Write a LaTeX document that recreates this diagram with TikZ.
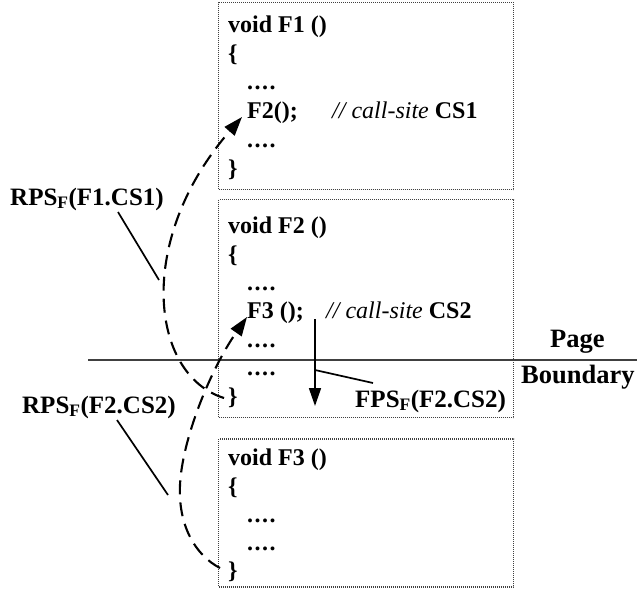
\documentclass[tikz,border=0pt]{standalone}
\usepackage{fontspec}
\setmainfont{Liberation Serif}
\usetikzlibrary{arrows.meta}
\newcommand{\codedots}{.\kern1.5pt.\kern1.5pt.\kern1.5pt.}
\begin{document}
\begin{tikzpicture}[x=1pt,y=-1pt,
  codebox/.style={draw=black!75, line width=1.1pt, dash pattern=on 1pt off 1pt,
                  minimum width=295pt, inner sep=0pt},
  code/.style={anchor=base west, inner sep=0pt, font=\fontsize{24}{24}\selectfont\bfseries},
  lbl/.style={anchor=base west, inner sep=0pt, font=\fontsize{25}{25}\selectfont\bfseries},
  bigl/.style={anchor=base west, inner sep=0pt, font=\fontsize{26.5}{26.5}\selectfont\bfseries},
  leader/.style={line width=1.7pt},
  retpath/.style={line width=2.1pt, dash pattern=on 14pt off 8pt,
                  -{Triangle[length=19pt,width=13pt]}},
  fwdpath/.style={line width=1.7pt, -{Triangle[length=18pt,width=12pt]}},
  pageline/.style={line width=2.8pt, draw=black!75}]
\useasboundingbox (0,0) rectangle (637,590);

% the three function bodies
\node[codebox, minimum height=187pt] (box1) at (366,96) {};
\node[codebox, minimum height=218pt] (box2) at (366,308.5) {};
\node[codebox, minimum height=148pt] (box3) at (366,513) {};

% F1
\node[code] (f1a) at (228,32)  {void F1 ()};
\node[code] (f1b) at (228,61)  {\{};
\node[code] (f1c) at (247,89)  {\codedots};
\node[code] (f1d) at (247,118) {F2();};
\node[code] (f1e) at (332,118) {\mdseries\itshape // call-site \upshape\bfseries CS1};
\node[code] (f1f) at (247,147) {\codedots};
\node[code] (f1g) at (228,176) {\}};

% F2
\node[code] (f2a) at (228,233) {void F2 ()};
\node[code] (f2b) at (228,262) {\{};
\node[code] (f2c) at (247,290) {\codedots};
\node[code] (f2d) at (247,318) {F3 ();};
\node[code] (f2e) at (326,318) {\mdseries\itshape // call-site \upshape\bfseries CS2};
\node[code] (f2f) at (247,347) {\codedots};
\node[code] (f2g) at (247,375) {\codedots};
\node[code] (f2h) at (228,404) {\}};

% F3
\node[code] (f3a) at (228,465) {void F3 ()};
\node[code] (f3b) at (228,494) {\{};
\node[code] (f3c) at (247,522) {\codedots};
\node[code] (f3d) at (247,550) {\codedots};
\node[code] (f3e) at (228,578) {\}};

% page boundary
\coordinate (pbl) at (88,360);
\coordinate (pbr) at (637,360);
\draw[pageline] (pbl) -- (pbr);
\node[bigl] (page) at (550,347) {Page};
\node[bigl] (bound) at (521,383) {Boundary};

% labels
\node[lbl] (rps1) at (10,205)  {RPS\textsubscript{F}(F1.CS1)};
\node[lbl] (rps2) at (22,413)  {RPS\textsubscript{F}(F2.CS2)};
\node[lbl] (fps)  at (355,407) {FPS\textsubscript{F}(F2.CS2)};

% end points of the return and forward paths
\coordinate (ret1s) at (224,398);
\coordinate (ret1e) at (242,117);
\coordinate (ret2s) at (220,568);
\coordinate (ret2m) at (180,485);
\coordinate (ret2e) at (247,317);
\coordinate (fwds)  at (315,319);
\coordinate (fwde)  at (315,406);

% return paths (dashed)
\draw[retpath] (ret1s) .. controls (150,375) and (135,240) .. (ret1e);
\draw[retpath] (ret2s) .. controls (195,555) and (178,525) .. (ret2m)
               .. controls (182,440) and (210,370) .. (ret2e);

% forward path
\draw[fwdpath] (fwds) -- (fwde);

% leader lines from the labels
\coordinate (l1a) at (118,212);
\coordinate (l1b) at (159,280);
\coordinate (l2a) at (117,420);
\coordinate (l2b) at (168,495);
\coordinate (l3a) at (373,383);
\coordinate (l3b) at (315,370);
\draw[leader] (l1a) -- (l1b);
\draw[leader] (l2a) -- (l2b);
\draw[leader] (l3a) -- (l3b);
\end{tikzpicture}
\end{document}
